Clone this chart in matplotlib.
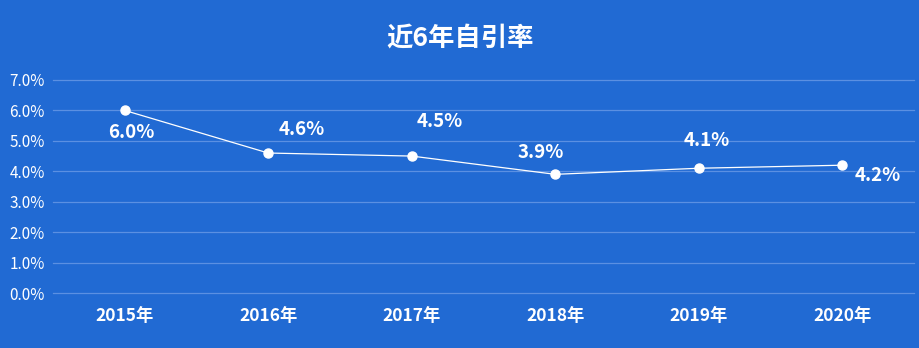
import matplotlib
matplotlib.use("Agg")
import matplotlib.pyplot as plt
from matplotlib.ticker import FuncFormatter

plt.rcParams['font.family'] = ['Noto Sans CJK SC', 'DejaVu Sans']

# 数据
years = ["2015年", "2016年", "2017年", "2018年", "2019年", "2020年"]
rates = [6.0, 4.6, 4.5, 3.9, 4.1, 4.2]
# 标签偏移 (像素)
label_offsets = [(7, -22), (34, 24), (28, 35), (-14, 22), (8, 28), (36, -10)]

bg = "#216ad3"
grid_c = "#5b90e2"

fig = plt.figure(figsize=(9.2, 3.48), dpi=100, facecolor=bg)
ax = fig.add_axes([53 / 920, 55 / 348, 861 / 920, 213 / 348])
ax.set_facecolor(bg)

x = list(range(len(years)))
ax.plot(x, rates, color="white", linewidth=0.9, marker="o",
        markersize=6.5, markerfacecolor="white", markeredgecolor="white", zorder=3)

for xi, v, (dx, dy) in zip(x, rates, label_offsets):
    ax.annotate(f"{v:.1f}%", (xi, v), xytext=(dx, dy), textcoords="offset pixels",
                ha="center", va="center", color="white", fontsize=13.5,
                fontweight="bold")

ax.set_xlim(-0.5, len(years) - 0.5)
ax.set_ylim(0, 7)
ax.set_yticks(range(0, 8))
ax.yaxis.set_major_formatter(FuncFormatter(lambda v, _: f"{v:.1f}%"))
ax.set_xticks(x)
ax.set_xticklabels(years, fontweight="bold", fontsize=12.5)
ax.tick_params(axis="x", colors="white", length=0, pad=10)
ax.tick_params(axis="y", colors="white", length=0, pad=6, labelsize=11)
ax.grid(axis="y", color=grid_c, linewidth=0.9)
for gl in ax.get_ygridlines():
    gl.set_clip_on(False)
for s in ax.spines.values():
    s.set_visible(False)

fig.text(0.5, 1 - 38 / 348, "近6年自引率", ha="center", va="center",
         color="white", fontsize=19, fontweight="bold")

fig.savefig("out.png", dpi=100, facecolor=bg)
